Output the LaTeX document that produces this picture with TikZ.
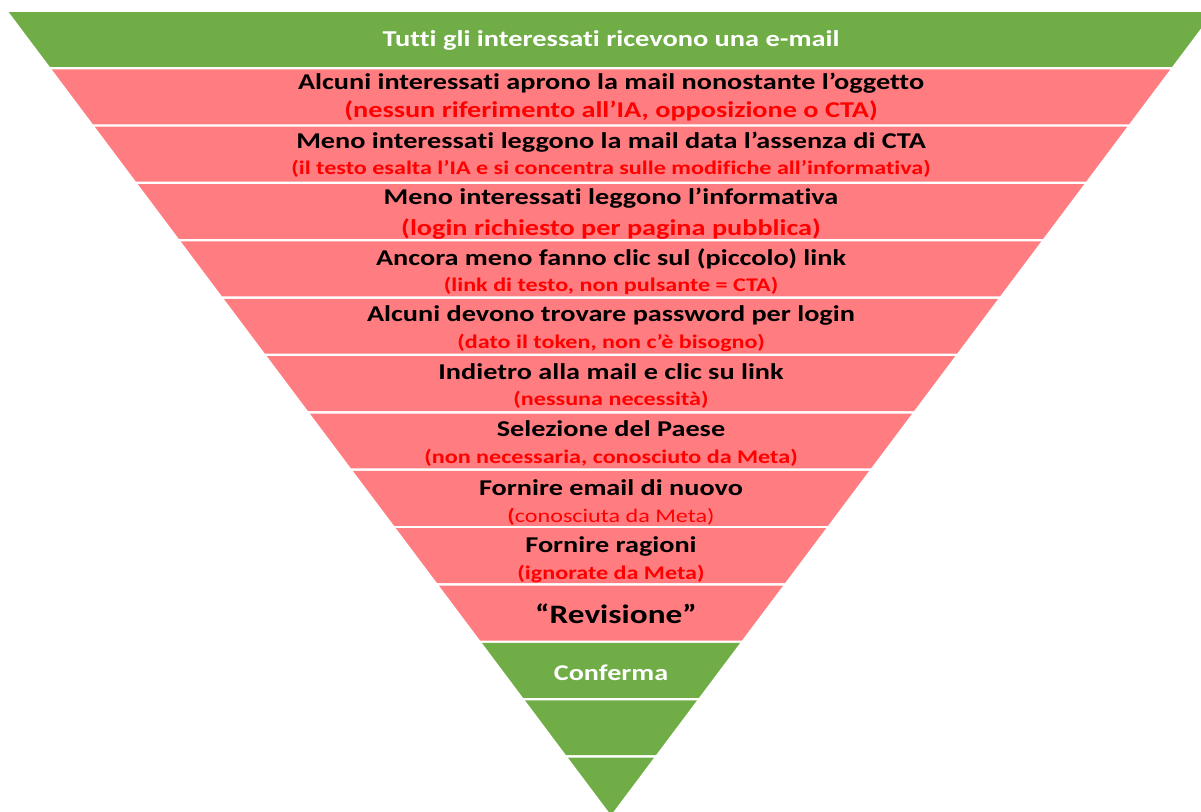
\documentclass[tikz,border=0pt]{standalone}
\usepackage{fontspec}
\setmainfont[FakeStretch=1.25, Ligatures={NoCommon}]{Carlito}
\usepackage{xcolor}
\usepackage{tikz}
\definecolor{funnelgreen}{HTML}{70AD47}
\definecolor{funnelpink}{HTML}{FF7C80}
\definecolor{noteRed}{HTML}{FF0000}

\begin{document}
\begin{tikzpicture}[
  x=1pt, y=-1pt,
  stage/.style={anchor=base, inner sep=0pt, font=\fontsize{22.6}{26}\selectfont\bfseries},
  white/.style={stage, text=white, font=\fontsize{22.7}{26}\selectfont\bfseries},
  bignote/.style={anchor=base, inner sep=0pt, text=noteRed, font=\fontsize{22.6}{26}\selectfont\bfseries},
  note/.style={anchor=base, inner sep=0pt, text=noteRed, font=\fontsize{19.3}{22}\selectfont\bfseries}
]
\useasboundingbox (0,0) rectangle (1201,811);
\clip (0,0) rectangle (1201,811);

% Bands of the funnel (apex at 611,815)
\foreach \i/\col in {0/funnelgreen,1/funnelpink,2/funnelpink,3/funnelpink,4/funnelpink,
  5/funnelpink,6/funnelpink,7/funnelpink,8/funnelpink,9/funnelpink,10/funnelpink,
  11/funnelgreen,12/funnelgreen,13/funnelgreen} {
  \pgfmathsetmacro{\yt}{12+\i*57.36}
  \pgfmathsetmacro{\yb}{min(\yt+54.9,815)}
  \fill[\col] ({611-0.75*(815-\yt)},\yt) -- ({611+0.75*(815-\yt)},\yt)
    -- ({611+0.75*(815-\yb)},\yb) -- ({611-0.75*(815-\yb)},\yb) -- cycle;
}

% Top
\node[white] (all) at (611,46) {Tutti gli interessati ricevono una e-mail};

% Band 1
\node[stage] (open) at (611,89) {Alcuni interessati aprono la mail nonostante l’oggetto};
\node[bignote] (openNote) at (611,117.5) {(nessun riferimento all’IA, opposizione o CTA)};

% Band 2
\node[stage] (read) at (611,148.3) {Meno interessati leggono la mail data l’assenza di CTA};
\node[note] (readNote) at (611,174.3) {(il testo esalta l’IA e si concentra sulle modifiche all’informativa)};

% Band 3
\node[stage] (notice) at (611,204.5) {Meno interessati leggono l’informativa};
\node[bignote] (noticeNote) at (611,235) {(login richiesto per pagina pubblica)};

% Band 4
\node[stage] (click) at (611,265) {Ancora meno fanno clic sul (piccolo) link};
\node[note] (clickNote) at (611,291.5) {(link di testo, non pulsante = CTA)};

% Band 5
\node[stage] (pass) at (611,321.7) {Alcuni devono trovare password per login};
\node[note] (passNote) at (611,348.3) {(dato il token, non c’è bisogno)};

% Band 6
\node[stage] (back) at (611,379.3) {Indietro alla mail e clic su link};
\node[note] (backNote) at (611,405) {(nessuna necessità)};

% Band 7
\node[stage] (country) at (611,436.7) {Selezione del Paese};
\node[note] (countryNote) at (611,463.3) {(non necessaria, conosciuto da Meta)};

% Band 8
\node[stage] (email) at (611,495) {Fornire email di nuovo};
\node[note] (emailNote) at (611,522.7) {(\mdseries conosciuta da Meta)};

% Band 9
\node[stage] (reasons) at (611,552.3) {Fornire ragioni};
\node[note] (reasonsNote) at (611,579.3) {(ignorate da Meta)};

% Band 10
\node[stage, font=\fontsize{26.6}{30}\selectfont\bfseries] (review) at (616,623.3) {“Revisione”};

% Band 11
\node[white, font=\fontsize{22.5}{26}\selectfont\bfseries] (confirm) at (611,680) {Conferma};

\end{tikzpicture}
\end{document}
